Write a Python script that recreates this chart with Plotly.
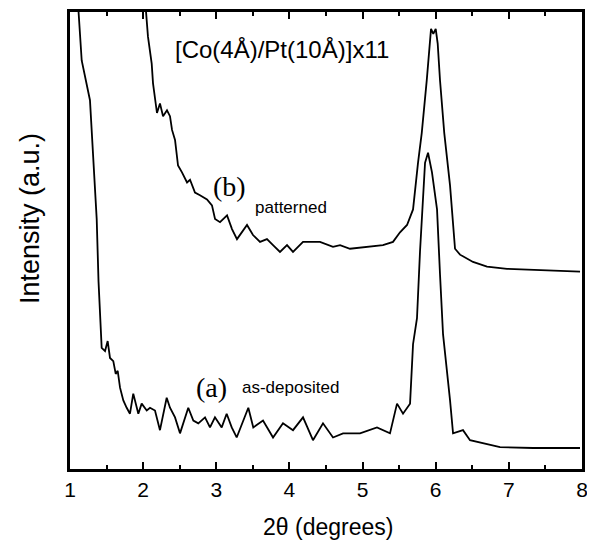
import plotly.graph_objects as go

# Curve (a): as-deposited
xa = [1.109, 1.16, 1.273, 1.365, 1.39, 1.41, 1.433, 1.479, 1.515, 1.547, 1.592, 1.625, 1.652,
      1.684, 1.729, 1.775, 1.82, 1.865, 1.912, 1.934, 1.98, 2.049, 2.094, 2.162, 2.23, 2.276,
      2.322, 2.367, 2.436, 2.504, 2.572, 2.617, 2.686, 2.754, 2.846, 2.914, 2.982, 3.074, 3.142,
      3.211, 3.279, 3.369, 3.438, 3.506, 3.639, 3.776, 3.912, 4.049, 4.186, 4.322, 4.459, 4.596,
      4.733, 4.869, 4.965, 5.197, 5.375, 5.471, 5.553, 5.649, 5.69, 5.744, 5.785, 5.854, 5.895,
      5.949, 6.018, 6.059, 6.1, 6.196, 6.237, 6.373, 6.469, 6.879, 7.33, 7.973]
ya = [102, 89.4, 80.7, 54.7, 41.0, 32.3, 26.5, 25.8, 28.0, 24.3, 23.6, 20.8, 21.5,
      17.8, 15.0, 13.4, 12.1, 16.5, 13.4, 12.1, 14.3, 12.8, 13.4, 12.8, 8.5, 12.1,
      15.6, 13.4, 11.3, 7.8, 11.3, 13.4, 10.6, 10.0, 11.3, 9.1, 11.3, 9.1, 12.1,
      9.1, 6.9, 10.6, 13.4, 9.1, 10.6, 6.9, 10.0, 8.5, 11.3, 6.3, 10.0, 6.9,
      7.8, 7.8, 7.8, 9.1, 7.8, 14.3, 12.1, 14.3, 27.3, 33.0, 47.5, 67.0, 69.2,
      64.9, 56.8, 42.5, 29.5, 15.0, 7.8, 8.5, 6.3, 4.8, 4.6, 4.6]

# Curve (b): patterned
xb = [2.025, 2.066, 2.117, 2.135, 2.189, 2.23, 2.272, 2.326, 2.367, 2.395, 2.436, 2.477, 2.531,
      2.6, 2.641, 2.709, 2.777, 2.873, 2.941, 2.983, 3.051, 3.147, 3.215, 3.283, 3.42, 3.502,
      3.598, 3.693, 3.776, 3.871, 3.967, 4.049, 4.186, 4.418, 4.596, 4.692, 4.828, 5.061, 5.279,
      5.416, 5.512, 5.608, 5.69, 5.758, 5.809, 5.877, 5.922, 5.936, 5.967, 6.0, 6.027, 6.059,
      6.117, 6.196, 6.264, 6.332, 6.51, 6.701, 6.975, 7.33, 7.973]
yb = [103, 94.6, 88.7, 84.4, 77.9, 80.0, 77.2, 78.5, 77.2, 74.2, 72.0, 66.4, 64.9,
      62.7, 63.3, 60.5, 59.9, 59.0, 57.7, 54.7, 54.0, 55.5, 52.5, 50.3, 53.4, 51.2,
      49.7, 50.3, 49.0, 47.5, 49.0, 47.5, 49.7, 49.7, 48.6, 49.0, 48.2, 48.6, 49.0,
      49.7, 51.8, 53.4, 56.8, 67.0, 73.5, 85.0, 95.2, 96.3, 95.2, 96.3, 93.1, 85.0,
      73.5, 62.0, 48.2, 46.9, 45.3, 44.3, 43.8, 43.6, 43.2]

x_ticks = [1, 2, 3, 4, 5, 6, 7, 8]

fig = go.Figure()
fig.add_trace(go.Scatter(x=xa, y=ya, mode="lines", line=dict(color="black", width=1.8),
                         showlegend=False, cliponaxis=True))
fig.add_trace(go.Scatter(x=xb, y=yb, mode="lines", line=dict(color="black", width=1.8),
                         showlegend=False, cliponaxis=True))

font_main = "Liberation Sans, Arial, sans-serif"
font_serif = "Liberation Serif, Times New Roman, serif"


def label(text, x, y, size, family=font_main, angle=0):
    return dict(text=text, xref="paper", yref="paper", x=x, y=y, xanchor="center",
                yanchor="middle", showarrow=False, textangle=angle,
                font=dict(size=size, family=family, color="black"))


fig.update_layout(
    width=587, height=541,
    margin=dict(l=62, r=13, t=1, b=80),
    paper_bgcolor="white", plot_bgcolor="white",
    font=dict(family=font_main, color="black", size=21),
    xaxis=dict(range=[1, 8], tickvals=x_ticks, ticktext=[str(v) for v in x_ticks],
               ticks="inside", ticklen=7, tickwidth=1.5, tickcolor="black",
               minor=dict(dtick=0.5, ticks="inside", ticklen=4, tickwidth=1.5, tickcolor="black"),
               showline=True, linewidth=2.5, linecolor="black", mirror="allticks",
               showgrid=False, zeroline=False, tickfont=dict(size=21)),
    yaxis=dict(range=[0, 100], showticklabels=False, ticks="",
               showline=True, linewidth=2.5, linecolor="black", mirror=True,
               showgrid=False, zeroline=False),
    annotations=[
        label("[Co(4Å)/Pt(10Å)]x11", 0.414, 0.918, 24),
        label("(b)", 0.311, 0.618, 28, font_serif),
        label("patterned", 0.432, 0.573, 17),
        label("(a)", 0.277, 0.178, 28, font_serif),
        label("as-deposited", 0.43, 0.178, 17),
        label("2θ (degrees)", 0.504, -0.128, 23),
        label("Intensity (a.u.)", -0.078, 0.547, 27, angle=-90),
    ],
)

fig.write_html("out.html")
